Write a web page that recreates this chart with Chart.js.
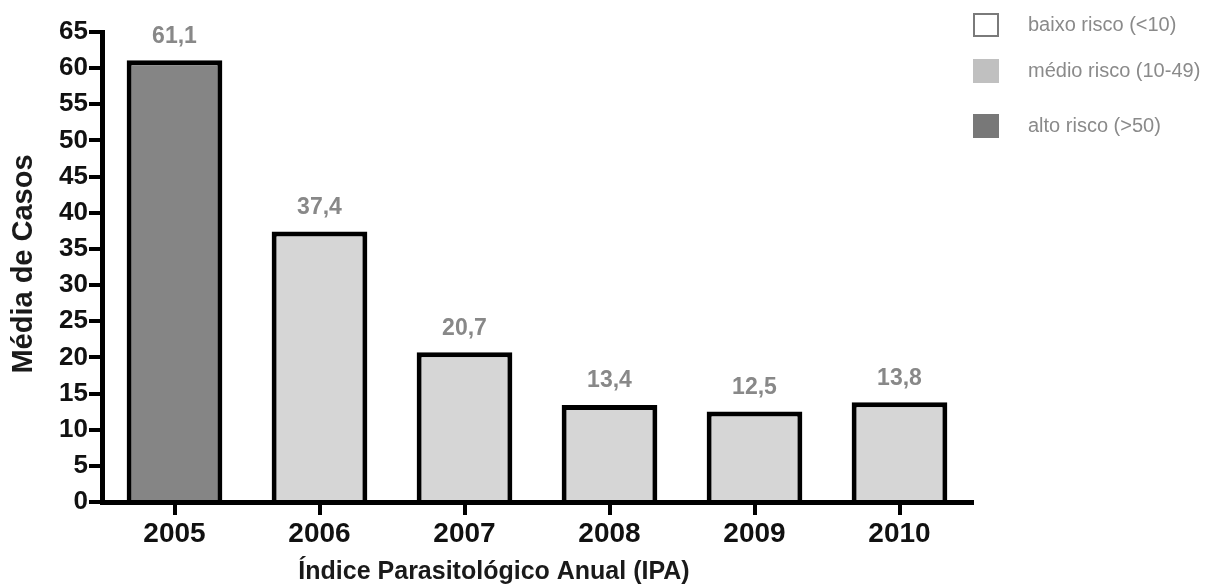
<!DOCTYPE html>
<html>
<head>
<meta charset="utf-8">
<script src="https://cdn.jsdelivr.net/npm/chart.js@4"></script>
<style>
  body { margin: 0; background: #fff; }
</style>
</head>
<body>
<canvas id="chart" width="1208" height="588"></canvas>
<script>
const years = ['2005', '2006', '2007', '2008', '2009', '2010'];
const media = [61.1, 37.4, 20.7, 13.4, 12.5, 13.8];
const barColors = ['#858585', '#d6d6d6', '#d6d6d6', '#d6d6d6', '#d6d6d6', '#d6d6d6'];
const yTicks = [0, 5, 10, 15, 20, 25, 30, 35, 40, 45, 50, 55, 60, 65];
const legendItems = [
  { label: 'baixo risco (<10)', fill: '#ffffff', stroke: '#7a7a7a' },
  { label: 'médio risco (10-49)', fill: '#c0c0c0', stroke: null },
  { label: 'alto risco (>50)', fill: '#787878', stroke: null }
];

const FONT = "'Liberation Sans', Arial, sans-serif";

// labels above bars, e.g. "61,1"
const valueLabels = {
  id: 'valueLabels',
  afterDatasetsDraw(chart) {
    const ctx = chart.ctx;
    const meta = chart.getDatasetMeta(0);
    ctx.save();
    ctx.fillStyle = '#888888';
    ctx.font = 'bold 23px ' + FONT;
    ctx.textAlign = 'center';
    ctx.textBaseline = 'middle';
    meta.data.forEach((bar, i) => {
      ctx.fillText(media[i].toFixed(1).replace('.', ','), bar.x, bar.y - 24);
    });
    ctx.restore();
  }
};

// axis titles and the risk legend in the top right
const extras = {
  id: 'extras',
  afterDraw(chart) {
    const ctx = chart.ctx;
    ctx.save();
    ctx.fillStyle = '#1a1a1a';
    ctx.font = 'bold 25px ' + FONT;
    ctx.textAlign = 'center';
    ctx.textBaseline = 'middle';
    ctx.fillText('Índice Parasitológico Anual (IPA)', 494, 572);

    ctx.font = 'bold 29px ' + FONT;
    ctx.translate(24, 264);
    ctx.rotate(-Math.PI / 2);
    ctx.fillText('Média de Casos', 0, 0);
    ctx.restore();

    ctx.save();
    const rowsY = [25, 71, 126];
    ctx.font = '20px ' + FONT;
    ctx.textBaseline = 'middle';
    ctx.textAlign = 'left';
    legendItems.forEach((item, i) => {
      const y = rowsY[i];
      ctx.fillStyle = item.fill;
      ctx.fillRect(973, y - 12, 26, 24);
      if (item.stroke) {
        ctx.strokeStyle = item.stroke;
        ctx.lineWidth = 2;
        ctx.strokeRect(974, y - 11, 24, 22);
      }
      ctx.fillStyle = '#8a8a8a';
      ctx.fillText(item.label, 1028, y);
    });
    ctx.restore();
  }
};

new Chart(document.getElementById('chart'), {
  type: 'bar',
  data: {
    labels: years,
    datasets: [{
      data: media,
      backgroundColor: barColors,
      borderColor: '#000',
      borderWidth: 5,
      barPercentage: 0.66,
      categoryPercentage: 1
    }]
  },
  options: {
    responsive: false,
    animation: false,
    layout: { padding: { top: 32, right: 236, left: 0, bottom: 0 } },
    plugins: { legend: { display: false }, tooltip: { enabled: false } },
    scales: {
      x: {
        afterFit: (scale) => { scale.height = 86; },
        border: { color: '#000', width: 5 },
        grid: { offset: false, drawOnChartArea: false, color: '#000', lineWidth: 4, tickLength: 13 },
        ticks: { color: '#111', font: { family: FONT, weight: 'bold', size: 28 }, padding: 2 }
      },
      y: {
        min: 0,
        max: 65,
        afterFit: (scale) => { scale.width = 102; },
        afterBuildTicks: (scale) => { scale.ticks = yTicks.map(v => ({ value: v })); },
        border: { color: '#000', width: 5 },
        grid: { drawOnChartArea: false, color: '#000', lineWidth: 4, tickLength: 13 },
        ticks: { color: '#111', font: { family: FONT, weight: 'bold', size: 26 }, padding: 1 }
      }
    }
  },
  plugins: [valueLabels, extras]
});
</script>
</body>
</html>
